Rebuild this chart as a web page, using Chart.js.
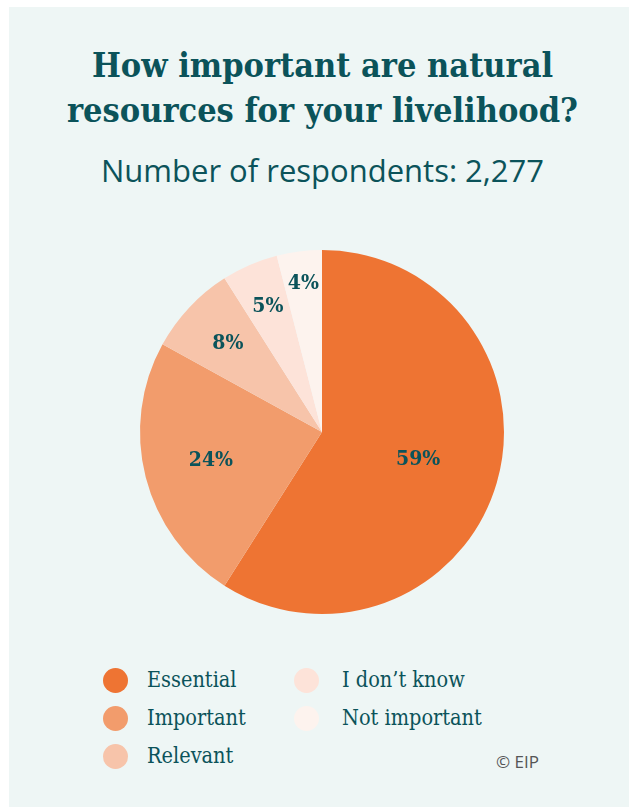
<!DOCTYPE html>
<html>
<head>
<meta charset="utf-8">
<script src="https://cdn.jsdelivr.net/npm/chart.js@4"></script>
<style>
  html, body { margin: 0; padding: 0; background: #fff; }
  body { width: 629px; height: 807px; position: relative; overflow: hidden; }
  .panel { position: absolute; left: 9px; top: 7px; right: 0; bottom: 0; background: #eef6f5; }
  .serif { font-family: "DejaVu Serif Condensed", "DejaVu Serif", serif; font-stretch: condensed; }
  .title { position: absolute; left: 8px; top: 43px; width: 629px; text-align: center;
    font-weight: bold; font-size: 34px; line-height: 45px; color: #0b535a; }
  .subtitle { position: absolute; left: 8px; top: 149px; width: 629px; text-align: center;
    font-family: "Open Sans", sans-serif; font-size: 31px; color: #0b535a; }
  .chart-box { position: absolute; left: 122px; top: 232px; width: 400px; height: 400px; }
  .legend { position: absolute; left: 0; top: 0; }
  .legend-item { position: absolute; white-space: nowrap; font-size: 21.5px; color: #0b535a; line-height: 26px; }
  .dot { position: absolute; width: 25px; height: 25px; border-radius: 50%; }
  .credit { position: absolute; left: 496px; top: 750px; font-family: "Open Sans", sans-serif;
    font-size: 17px; color: #555; }
</style>
</head>
<body>
<div class="panel"></div>
<div class="title serif">How important are natural<br>resources for your livelihood?</div>
<div class="subtitle">Number of respondents: 2,277</div>
<div class="chart-box"><canvas id="pie"></canvas></div>
<div class="legend" id="legend"></div>
<div class="credit">© EIP</div>
<script>
const categories = ['Essential', 'Important', 'Relevant', 'I don\u2019t know', 'Not important'];
const shares = [59, 24, 8, 5, 4];
const sliceColors = ['#ee7433', '#f29c6c', '#f7c4aa', '#fde3d9', '#fdf3ee'];

// how far out (fraction of radius) each percent label sits
const labelRadius = [0.55, 0.63, 0.71, 0.75, 0.82];

const pctLabels = {
  id: 'pctLabels',
  afterDatasetsDraw(chart) {
    const ctx = chart.ctx;
    const meta = chart.getDatasetMeta(0);
    ctx.save();
    ctx.font = 'bold condensed 21px "DejaVu Serif Condensed", "DejaVu Serif", serif';
    ctx.fillStyle = '#0b535a';
    ctx.textAlign = 'center';
    ctx.textBaseline = 'middle';
    meta.data.forEach((arc, i) => {
      const p = arc.getProps(['x', 'y', 'startAngle', 'endAngle', 'outerRadius'], true);
      const mid = (p.startAngle + p.endAngle) / 2;
      const r = p.outerRadius * labelRadius[i];
      ctx.fillText(shares[i] + '%', p.x + Math.cos(mid) * r, p.y + Math.sin(mid) * r);
    });
    ctx.restore();
  }
};

const chart = new Chart(document.getElementById('pie').getContext('2d'), {
  type: 'pie',
  data: {
    labels: categories,
    datasets: [{
      data: shares,
      backgroundColor: sliceColors,
      borderWidth: 0
    }]
  },
  options: {
    responsive: true,
    maintainAspectRatio: false,
    animation: false,
    layout: { padding: 18 },
    plugins: {
      legend: { display: false },
      tooltip: { enabled: false }
    }
  },
  plugins: [pctLabels]
});

// two-column legend, filled top to bottom
const legendEl = document.getElementById('legend');
const colDot = [103, 294], colText = [147, 342];
chart.data.labels.forEach((lab, i) => {
  const col = i < 3 ? 0 : 1;
  const row = i < 3 ? i : i - 3;
  const y = 668 + row * 38;
  const dot = document.createElement('div');
  dot.className = 'dot';
  dot.style.left = colDot[col] + 'px';
  dot.style.top = y + 'px';
  dot.style.background = sliceColors[i];
  legendEl.appendChild(dot);
  const txt = document.createElement('div');
  txt.className = 'legend-item serif';
  txt.style.left = colText[col] + 'px';
  txt.style.top = (y - 1) + 'px';
  txt.textContent = lab;
  legendEl.appendChild(txt);
});
</script>
</body>
</html>
